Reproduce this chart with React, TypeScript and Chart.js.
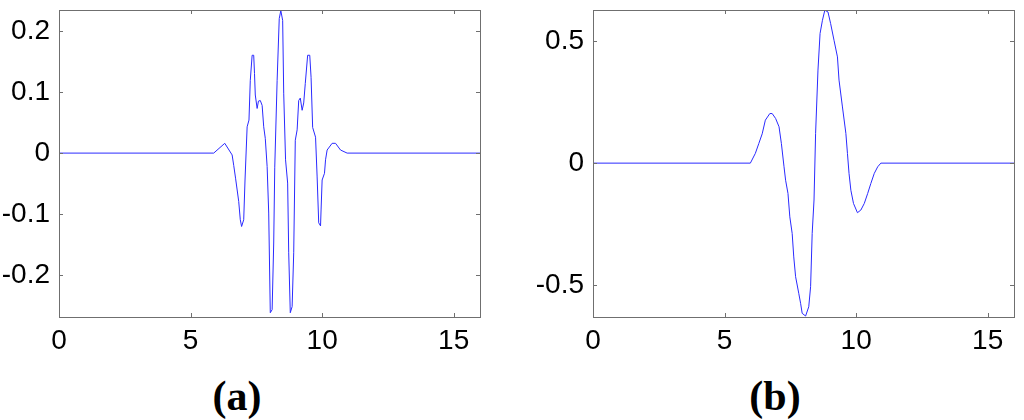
import React, { useEffect, useRef } from "react";
import { Chart, registerables } from "chart.js";

Chart.register(...registerables);

// ---- Data (a) ----
const timeA = [
  0, 5.88, 6.3, 6.58, 6.64, 6.71, 6.83, 6.89, 6.94, 7.02, 7.07, 7.15, 7.22, 7.27, 7.34, 7.4, 7.43,
  7.46, 7.53, 7.58, 7.65, 7.72, 7.78, 7.84, 7.91, 7.97, 8.03, 8.1, 8.16, 8.2, 8.29, 8.37, 8.43,
  8.5, 8.54, 8.61, 8.69, 8.73, 8.79, 8.86, 8.92, 8.98, 9.05, 9.11, 9.17, 9.24, 9.3, 9.36, 9.45,
  9.53, 9.58, 9.64, 9.75, 9.81, 9.87, 9.94, 9.96, 10.0, 10.09, 10.13, 10.19, 10.38, 10.51, 10.7,
  10.95, 16,
];
const signalA = [
  0, 0, 0.016, -0.003, -0.02, -0.041, -0.079, -0.109, -0.12, -0.109, -0.044, 0.043, 0.054, 0.119,
  0.16, 0.16, 0.13, 0.095, 0.073, 0.085, 0.086, 0.078, 0.043, 0.024, -0.022, -0.098, -0.261,
  -0.256, -0.147, -0.023, 0.119, 0.22, 0.233, 0.217, 0.098, -0.011, -0.049, -0.163, -0.261, -0.251,
  -0.163, 0.021, 0.038, 0.086, 0.09, 0.07, 0.082, 0.114, 0.16, 0.16, 0.124, 0.042, 0.026, -0.039,
  -0.114, -0.119, -0.093, -0.044, -0.033, -0.011, 0.005, 0.016, 0.016, 0.005, 0, 0,
];

// ---- Data (b) ----
const timeB = [
  0, 5.98, 6.17, 6.3, 6.43, 6.55, 6.72, 6.81, 6.94, 7.07, 7.16, 7.26, 7.32, 7.41, 7.48, 7.57, 7.63,
  7.7, 7.82, 7.89, 7.95, 8.08, 8.2, 8.27, 8.33, 8.4, 8.46, 8.55, 8.63, 8.72, 8.81, 8.93, 9.03, 9.16,
  9.29, 9.35, 9.48, 9.61, 9.67, 9.73, 9.8, 9.9, 10.05, 10.18, 10.31, 10.44, 10.56, 10.69, 10.82,
  10.94, 16,
];
const signalB = [
  0, 0, 0.04, 0.08, 0.12, 0.176, 0.203, 0.203, 0.183, 0.149, 0.08, -0.015, -0.07, -0.124, -0.22,
  -0.288, -0.384, -0.465, -0.533, -0.574, -0.615, -0.626, -0.588, -0.506, -0.288, -0.151, 0.122,
  0.381, 0.531, 0.585, 0.626, 0.619, 0.572, 0.503, 0.435, 0.34, 0.23, 0.122, 0.04, -0.042, -0.111,
  -0.165, -0.203, -0.192, -0.165, -0.124, -0.083, -0.042, -0.015, 0, 0,
];

const xTicks = [0, 5, 10, 15];
const yTicksA = [-0.2, -0.1, 0, 0.1, 0.2];
const yTicksB = [-0.5, 0, 0.5];
const panelLabels = ["(a)", "(b)"];

const FRAME = "#6f6f6f";
const LINE = "#2a2aff";
const TICK_FONT = { family: "'Liberation Sans', Arial, sans-serif", size: 28 };

const framePlugin = {
  id: "matlabFrame",
  afterDraw(chart: any) {
    const { ctx, chartArea: a, scales } = chart;
    ctx.save();
    ctx.strokeStyle = FRAME;
    ctx.lineWidth = 1;
    ctx.strokeRect(Math.round(a.left) + 0.5, Math.round(a.top) + 0.5, Math.round(a.right - a.left), Math.round(a.bottom - a.top));
    const L = 4;
    ctx.beginPath();
    scales.x.ticks.forEach((t: any) => {
      const px = Math.round(scales.x.getPixelForValue(t.value)) + 0.5;
      ctx.moveTo(px, a.bottom);
      ctx.lineTo(px, a.bottom - L);
      ctx.moveTo(px, a.top);
      ctx.lineTo(px, a.top + L);
    });
    scales.y.ticks.forEach((t: any) => {
      const py = Math.round(scales.y.getPixelForValue(t.value)) + 0.5;
      ctx.moveTo(a.left, py);
      ctx.lineTo(a.left + L, py);
      ctx.moveTo(a.right, py);
      ctx.lineTo(a.right - L, py);
    });
    ctx.stroke();
    ctx.restore();
  },
};

function fmt(v: number) {
  const r = Math.round(v * 10) / 10;
  if (r === 0) return "0";
  return String(r);
}

function Panel(props: {
  xs: number[];
  ys: number[];
  yMin: number;
  yMax: number;
  yTicks: number[];
  yWidth: number;
  padRight: number;
}) {
  const ref = useRef<HTMLCanvasElement>(null);
  useEffect(() => {
    if (!ref.current) return;
    const pts = props.xs.map((x, i) => ({ x, y: props.ys[i] }));
    const chart = new Chart(ref.current, {
      type: "line",
      data: {
        datasets: [
          {
            data: pts,
            borderColor: LINE,
            borderWidth: 1,
            pointRadius: 0,
            tension: 0,
            fill: false,
          },
        ],
      },
      options: {
        animation: false,
        responsive: false,
        maintainAspectRatio: false,
        layout: { padding: { top: 10, right: props.padRight, left: 0, bottom: 0 } },
        plugins: { legend: { display: false }, tooltip: { enabled: false } },
        scales: {
          x: {
            type: "linear",
            min: 0,
            max: 16,
            grid: { display: false, drawTicks: false },
            border: { display: false },
            afterBuildTicks: (s: any) => {
              s.ticks = xTicks.map((v) => ({ value: v }));
            },
            afterFit: (s: any) => {
              s.height = 43;
              s.paddingLeft = 0;
              s.paddingRight = 0;
            },
            ticks: {
              color: "#000",
              font: TICK_FONT,
              padding: 7,
              maxRotation: 0,
              callback: (v: any) => String(v),
            },
          },
          y: {
            type: "linear",
            min: props.yMin,
            max: props.yMax,
            grid: { display: false, drawTicks: false },
            border: { display: false },
            afterBuildTicks: (s: any) => {
              s.ticks = props.yTicks.map((v) => ({ value: v }));
            },
            afterFit: (s: any) => {
              s.width = props.yWidth;
              s.paddingTop = 0;
              s.paddingBottom = 0;
            },
            ticks: {
              color: "#000",
              font: TICK_FONT,
              padding: 9,
              callback: (v: any) => fmt(Number(v)),
            },
          },
        },
      },
      plugins: [framePlugin],
    } as any);
    return () => chart.destroy();
  }, []);
  return <canvas ref={ref} width={props.yWidth + 421 + props.padRight} height={360} />;
}

export default function App() {
  const labelStyle: React.CSSProperties = {
    position: "absolute",
    top: 372,
    width: 120,
    textAlign: "center",
    fontFamily: "'Liberation Serif', 'Times New Roman', serif",
    fontWeight: "bold",
    fontSize: 42,
    lineHeight: "48px",
    color: "#000",
  };
  return (
    <div
      style={{
        position: "fixed",
        left: 0,
        top: 0,
        width: 1024,
        height: 420,
        background: "#fff",
        overflow: "hidden",
      }}
    >
      <div style={{ position: "absolute", left: 0, top: 0 }}>
        <Panel xs={timeA} ys={signalA} yMin={-0.268} yMax={0.234} yTicks={yTicksA} yWidth={59} padRight={20} />
      </div>
      <div style={{ position: "absolute", left: 520, top: 0 }}>
        <Panel xs={timeB} ys={signalB} yMin={-0.63} yMax={0.627} yTicks={yTicksB} yWidth={73} padRight={10} />
      </div>
      <div style={{ ...labelStyle, left: 237 - 60 }}>{panelLabels[0]}</div>
      <div style={{ ...labelStyle, left: 775 - 60 }}>{panelLabels[1]}</div>
    </div>
  );
}
